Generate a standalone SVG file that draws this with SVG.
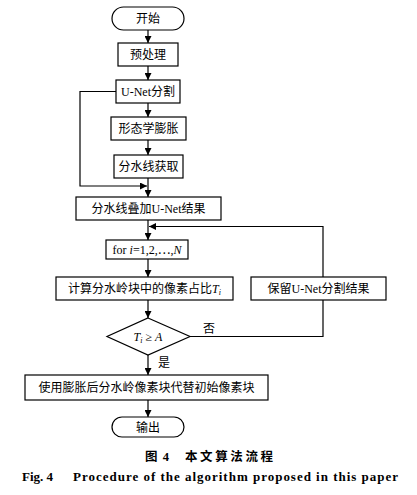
<svg xmlns="http://www.w3.org/2000/svg" width="417" height="495" viewBox="0 0 417 495">
<style>
.b{fill:#fff;stroke:#000;stroke-width:1.2}
.t{font-family:"Liberation Serif","Noto Sans CJK SC",serif;font-size:12px;fill:#000;text-anchor:middle}
.i{font-style:italic}
.c{fill:none;stroke:#000;stroke-width:1.2}
.f{font-family:"Liberation Serif",serif;font-weight:bold;font-size:13px;fill:#000}
.g{font-family:"Liberation Serif","Noto Sans CJK SC",serif;font-weight:bold;font-size:12.5px;fill:#000}
</style>
<defs>
<marker id="a" viewBox="0 0 10 10" refX="10" refY="5" markerWidth="7" markerHeight="7" markerUnits="userSpaceOnUse" orient="auto"><path d="M0,0L10,5L0,10z" fill="#000"/></marker>
</defs>
<rect width="417" height="495" fill="#fff"/>
<g id="connectors">
<path class="c" d="M148,30V43" marker-end="url(#a)"/>
<path class="c" d="M148,66V80" marker-end="url(#a)"/>
<path class="c" d="M148,103V117" marker-end="url(#a)"/>
<path class="c" d="M148,140V155" marker-end="url(#a)"/>
<path class="c" d="M148,178V197" marker-end="url(#a)"/>
<path class="c" d="M116,91.5H80V186H147" marker-end="url(#a)"/>
<path class="c" d="M148,220V240" marker-end="url(#a)"/>
<path class="c" d="M148,259V277" marker-end="url(#a)"/>
<path class="c" d="M148,300V318" marker-end="url(#a)"/>
<path class="c" d="M148,355V375" marker-end="url(#a)"/>
<path class="c" d="M148,400V417" marker-end="url(#a)"/>
<path class="c" d="M190,336.5H323V300"/>
<path class="c" d="M323,277V226.5H149" marker-end="url(#a)"/>
</g>
<g id="start"><rect class="b" x="112" y="7" width="72" height="23" rx="11.5"/><text class="t" x="148" y="23">开始</text></g>
<g id="preprocess"><rect class="b" x="118" y="43" width="60" height="23"/><text class="t" x="148" y="59">预处理</text></g>
<g id="unet"><rect class="b" x="116" y="80" width="64" height="23"/><text class="t" x="148" y="96">U-Net分割</text></g>
<g id="dilate"><rect class="b" x="111" y="117" width="75" height="23"/><text class="t" x="148.5" y="133">形态学膨胀</text></g>
<g id="watershed"><rect class="b" x="114" y="155" width="69" height="23"/><text class="t" x="148.5" y="171">分水线获取</text></g>
<g id="overlay"><rect class="b" x="76" y="197" width="145" height="23"/><text class="t" x="148.5" y="213">分水线叠加U-Net结果</text></g>
<g id="for"><rect class="b" x="106" y="240" width="82" height="19"/><text class="t" x="147" y="254">for <tspan class="i">i</tspan>=1,2,⋯,<tspan class="i">N</tspan></text></g>
<g id="compute"><rect class="b" x="56" y="277" width="177" height="23"/><text class="t" x="144.5" y="293">计算分水岭块中的像素占比<tspan class="i">T</tspan><tspan class="i" font-size="8" dy="2">i</tspan></text></g>
<g id="keep"><rect class="b" x="251" y="277" width="135" height="23"/><text class="t" x="318.5" y="293">保留U-Net分割结果</text></g>
<g id="decision"><path class="b" d="M148,318L190,336.5L148,355L107,336.5Z"/><text class="t" x="148" y="341"><tspan class="i">T</tspan><tspan class="i" font-size="8" dy="2">i</tspan><tspan dy="-2"> ≥ </tspan><tspan class="i">A</tspan></text></g>
<text class="t" x="209" y="333">否</text>
<text class="t" x="164" y="367">是</text>
<g id="replace"><rect class="b" x="25" y="375" width="243" height="25"/><text class="t" x="146.5" y="392">使用膨胀后分水岭像素块代替初始像素块</text></g>
<g id="output"><rect class="b" x="112" y="417" width="72" height="20" rx="10"/><text class="t" x="148" y="431.5">输出</text></g>
<text class="g" x="145" y="461" textLength="24" lengthAdjust="spacing">图 4</text>
<text class="g" x="185" y="461" textLength="88" lengthAdjust="spacing">本文算法流程</text>
<text class="f" x="22" y="481">Fig. 4</text>
<text class="f" x="73" y="481" textLength="325" lengthAdjust="spacing">Procedure of the algorithm proposed in this paper</text>
</svg>
